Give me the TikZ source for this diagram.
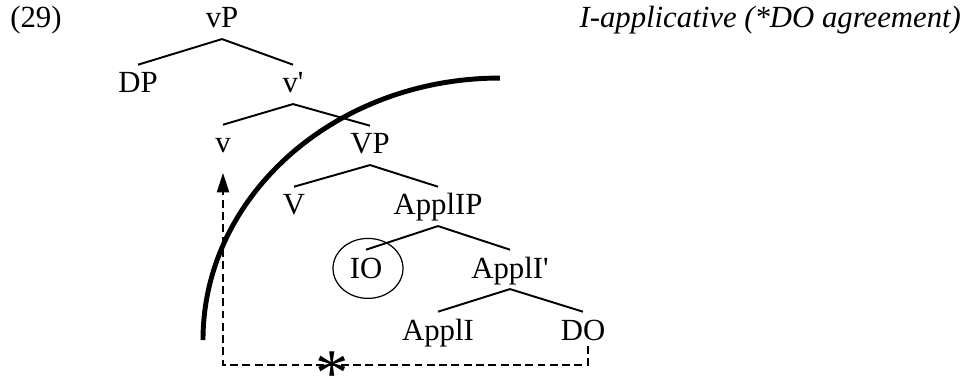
\documentclass[tikz,border=0pt]{standalone}
\usepackage{fontspec}
\setmainfont{Liberation Serif}
\usetikzlibrary{arrows.meta,calc}

\tikzset{
  cat/.style={inner xsep=1pt, inner ysep=4pt, text height=11.9pt, text depth=2.1pt,
    font=\fontsize{17.5}{21}\selectfont},
  branch/.style={line width=1.1pt},
  agree/.style={line width=0.8pt, dash pattern=on 4.5pt off 2.5pt},
}

\begin{document}
\begin{tikzpicture}[x=0.02cm,y=-0.02cm,>={Triangle[length=11pt,width=7pt]}]
\useasboundingbox (0,0) rectangle (969,381);

\node[cat,anchor=base] (num) at (36,28) {(29)};
\node[cat,anchor=base east,font=\fontsize{17.5}{21}\selectfont\itshape] (title) at (963,28) {I-applicative (*DO agreement)};

% the tree
\node[cat,anchor=base] (vP) at (222,28) {vP};
\node[cat,anchor=base] (DP) at (138,93) {DP};
\node[cat,anchor=base] (vbar) at (293,93) {v\textquotesingle};
\node[cat,anchor=base] (v) at (223,153) {v};
\node[cat,anchor=base] (VP) at (370,154) {VP};
\node[cat,anchor=base] (V) at (294,215) {V};
\node[cat,anchor=base] (ApplIP) at (438,215) {ApplIP};
\node[cat,anchor=base] (IO) at (366,278) {IO};
\node[cat,anchor=base] (ApplIbar) at (510,278) {ApplI\textquotesingle};
\node[cat,anchor=base] (ApplI) at (438,340) {ApplI};
\node[cat,anchor=base] (DO) at (583,340) {DO};

\draw[branch] (vP.south) -- (DP.north);
\draw[branch] (vP.south) -- (vbar.north);
\draw[branch] (vbar.south) -- (v.north);
\draw[branch] (vbar.south) -- (VP.north);
\draw[branch] (VP.south) -- (V.north);
\draw[branch] (VP.south) -- (ApplIP.north);
\draw[branch] (ApplIP.south) -- (IO.north);
\draw[branch] (ApplIP.south) -- (ApplIbar.north);
\draw[branch] (ApplIbar.south) -- (ApplI.north);
\draw[branch] (ApplIbar.south) -- (DO.north);

% circled goal
\draw[line width=0.7pt] ($(IO.center)+(2,-1)$) ellipse [x radius=0.7cm, y radius=0.6cm];

% phase boundary
\draw[line width=2.8pt] (203,340) arc[start angle=180, end angle=90, x radius=5.94cm, y radius=5.24cm];

% blocked agreement
\coordinate (start) at ($(DO.south)+(5,-5)$);
\coordinate (corner) at (223,365);
\coordinate (tip) at ($(v.south)+(0,9)$);
\draw[agree,->] (start) |- (corner) -- (tip);
\node[inner sep=0pt,anchor=base,font=\fontsize{38}{38}\selectfont] (star) at (332,395) {*};

\end{tikzpicture}
\end{document}
